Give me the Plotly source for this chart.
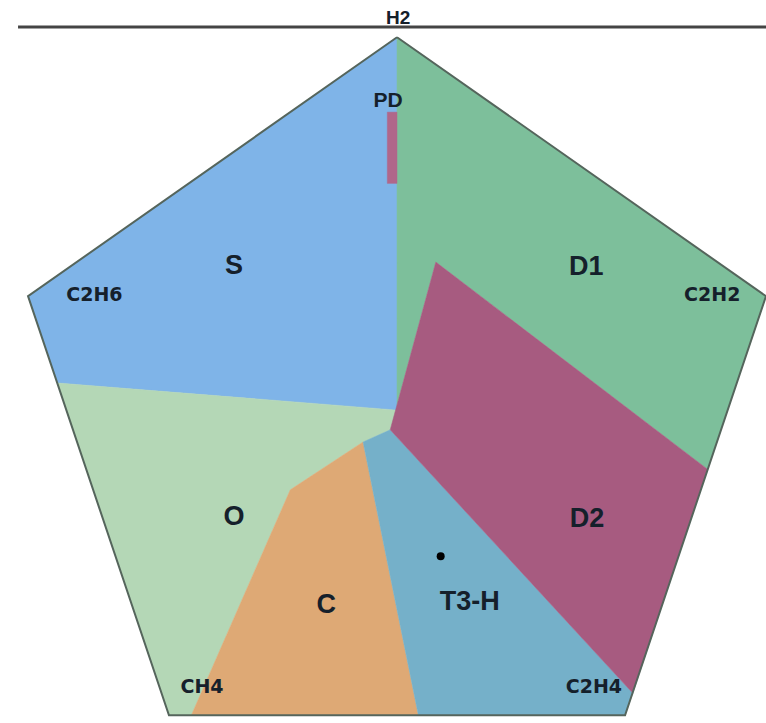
import plotly.graph_objects as go

# Duval Pentagon 2 zones (x, y in pentagon units)
pentagon_x = [0, 38.04, 23.51, -23.51, -38.04, 0]
pentagon_y = [40, 12.36, -32.36, -32.36, 12.36, 40]

zone_names = ["S", "O", "C", "T3-H", "D1", "D2", "PD"]
zone_x = {
    "S": [0, -38.04, -35, 0, 0],
    "O": [-35, 0, -0.7, -3.5, -11, -21.2, -23.51, -35],
    "C": [-3.5, 2.2, -21.2, -11, -3.5],
    "T3-H": [-0.7, 24.3, 23.51, 2.2, -3.5, -0.7],
    "D1": [0, 38.04, 32, 4, 0, 0],
    "D2": [4, 32, 24.3, -0.7, 4],
    "PD": [-1, 0, 0, -1, -1],
}
zone_y = {
    "S": [40, 12.36, 3.1, 0.2, 40],
    "O": [3.1, 0.2, -1.9, -3.2, -8.3, -32.36, -32.36, 3.1],
    "C": [-3.2, -32.36, -32.36, -8.3, -3.2],
    "T3-H": [-1.9, -30, -32.36, -32.36, -3.2, -1.9],
    "D1": [40, 12.36, -6.1, 16, 0.77, 40],
    "D2": [16, -6.1, -30, -1.9, 16],
    "PD": [24.4, 24.4, 32, 32, 24.4],
}
zone_colors = {
    "S": "#7fb4e8",
    "O": "#b4d7b6",
    "C": "#dea975",
    "T3-H": "#75b0c9",
    "D1": "#7dbf9b",
    "D2": "#a75b80",
    "PD": "#b0678a",
}

# zone label positions
label_text = ["S", "D1", "O", "D2", "C", "T3-H"]
label_x = [-16.8, 19.5, -16.8, 19.6, -7.3, 7.5]
label_y = [15.4, 15.3, -11.3, -11.5, -20.7, -20.4]

# gas vertex labels
gas_text = ["C2H6", "C2H2", "CH4", "C2H4"]
gas_x = [-31.2, 32.5, -20.1, 20.3]
gas_y = [12.4, 12.4, -29.5, -29.5]

# measured sample point
sample_x = [4.5]
sample_y = [-15.4]

TEXT_COLOR = "#15202b"

fig = go.Figure()

for name in zone_names:
    fig.add_trace(go.Scatter(
        x=zone_x[name], y=zone_y[name], mode="lines", fill="toself",
        fillcolor=zone_colors[name],
        line=dict(color=zone_colors[name], width=0.5),
        hoverinfo="skip", showlegend=False,
    ))

fig.add_trace(go.Scatter(
    x=pentagon_x, y=pentagon_y, mode="lines",
    line=dict(color="#55655c", width=2),
    hoverinfo="skip", showlegend=False,
))

fig.add_trace(go.Scatter(
    x=label_x, y=label_y, mode="text", text=label_text,
    textfont=dict(family="Liberation Sans, Arial", size=27, color=TEXT_COLOR,
                  weight="bold"),
    hoverinfo="skip", showlegend=False,
))

fig.add_trace(go.Scatter(
    x=gas_x, y=gas_y, mode="text", text=gas_text,
    textfont=dict(family="DejaVu Sans", size=19, color=TEXT_COLOR, weight="bold"),
    hoverinfo="skip", showlegend=False,
))

fig.add_trace(go.Scatter(
    x=[-0.93], y=[33.1], mode="text", text=["PD"],
    textfont=dict(family="Liberation Sans, Arial", size=21, color=TEXT_COLOR,
                  weight="bold"),
    hoverinfo="skip", showlegend=False,
))

fig.add_trace(go.Scatter(
    x=sample_x, y=sample_y, mode="markers",
    marker=dict(color="black", size=8),
    hoverinfo="skip", showlegend=False,
))

# top axis line with H2 label
fig.add_shape(type="line", x0=-39.07, x1=38.1, y0=41.1, y1=41.1,
              line=dict(color="#444444", width=3))
fig.add_annotation(x=0.1, y=42.1, text="H2", showarrow=False,
                   font=dict(family="Liberation Sans, Arial", size=19,
                             color=TEXT_COLOR, weight="bold"))

fig.update_layout(
    width=766, height=723,
    margin=dict(l=0, r=0, t=0, b=0),
    paper_bgcolor="white", plot_bgcolor="white",
    xaxis=dict(range=[-40.93, 38.04], visible=False, fixedrange=True),
    yaxis=dict(range=[-33.19, 43.97], visible=False, fixedrange=True),
)

fig.write_html("out.html")
